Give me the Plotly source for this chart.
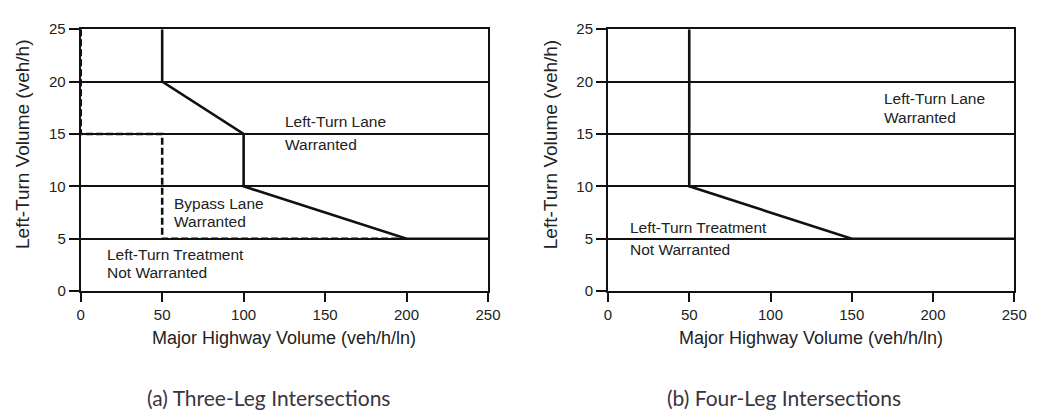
import plotly.graph_objects as go

# ---- data ----
x_ticks = [0, 50, 100, 150, 200, 250]
y_ticks = [0, 5, 10, 15, 20, 25]

# (a) three-leg: left-turn lane boundary (solid)
a_lane_x = [50, 50, 100, 100, 200, 250]
a_lane_y = [25, 20, 15, 10, 5, 5]
# (a) bypass lane boundary (dashed)
a_bypass_x = [0, 0, 50, 50, 200]
a_bypass_y = [25, 15, 15, 5, 5]
# (b) four-leg: left-turn lane boundary (solid)
b_lane_x = [50, 50, 150, 250]
b_lane_y = [25, 10, 5, 5]

a_labels = [
    ("Left-Turn Lane", 124, 16.2),
    ("Warranted", 124, 14.0),
    ("Bypass Lane", 56, 8.4),
    ("Warranted", 56, 6.6),
    ("Left-Turn Treatment", 15, 3.45),
    ("Not Warranted", 15, 1.75),
]
b_labels = [
    ("Left-Turn Lane", 168.5, 18.35),
    ("Warranted", 168.5, 16.6),
    ("Left-Turn Treatment", 12.5, 6.1),
    ("Not Warranted", 12.5, 4.0),
]
captions = ["(a) Three-Leg Intersections", "(b) Four-Leg Intersections"]
x_title = "Major Highway Volume (veh/h/ln)"
y_title = "Left-Turn Volume (veh/h)"

W, H = 1044, 420
fig = go.Figure()

LC = "#111"
fig.add_trace(go.Scatter(x=a_lane_x, y=a_lane_y, mode="lines",
                         line=dict(color=LC, width=2.6), xaxis="x", yaxis="y",
                         showlegend=False, hoverinfo="skip"))
fig.add_trace(go.Scatter(x=a_bypass_x, y=a_bypass_y, mode="lines",
                         line=dict(color=LC, width=2.6, dash="7px,3px"), xaxis="x", yaxis="y",
                         showlegend=False, hoverinfo="skip"))
fig.add_trace(go.Scatter(x=b_lane_x, y=b_lane_y, mode="lines",
                         line=dict(color=LC, width=2.6), xaxis="x2", yaxis="y2",
                         showlegend=False, hoverinfo="skip"))

FAM = "Liberation Sans"
font_tick = dict(family=FAM, size=15, color="#222")
font_lab = dict(family=FAM, size=15.5, color="#222")

def xa(domain, anchor):
    return dict(domain=domain, anchor=anchor, range=[0, 250], tickvals=x_ticks,
                showgrid=False, zeroline=False, showline=True, mirror=True,
                linecolor=LC, linewidth=2, ticks="outside", ticklen=9,
                tickcolor=LC, tickwidth=2, tickfont=font_tick, fixedrange=True)

def ya(domain, anchor):
    return dict(domain=domain, anchor=anchor, range=[0, 25], tickvals=y_ticks,
                showgrid=True, gridcolor=LC, gridwidth=2, zeroline=False,
                showline=True, mirror=True, linecolor=LC, linewidth=2,
                ticks="outside", ticklen=10, tickcolor=LC, tickwidth=2,
                tickfont=font_tick, fixedrange=True)

ydom = [1 - 294 / H, 1 - 21 / H]
fig.update_layout(
    width=W, height=H, margin=dict(l=0, r=0, t=0, b=0),
    paper_bgcolor="white", plot_bgcolor="white",
    xaxis=xa([78 / W, 492 / W], "y"),
    yaxis=ya(ydom, "x"),
    xaxis2=xa([614 / W, 1027 / W], "y2"),
    yaxis2=ya(ydom, "x2"),
)

ann = []
for t, x, y in a_labels:
    ann.append(dict(text=t, x=x, y=y, xref="x", yref="y", xanchor="left", yanchor="middle",
                    showarrow=False, font=font_lab))
for t, x, y in b_labels:
    ann.append(dict(text=t, x=x, y=y, xref="x2", yref="y2", xanchor="left", yanchor="middle",
                    showarrow=False, font=font_lab))
# axis titles
for cx in [285 / W, 820 / W]:
    ann.append(dict(text=x_title, x=cx, y=1 - 343 / H, xref="paper", yref="paper",
                    xanchor="center", yanchor="middle", showarrow=False,
                    font=dict(family=FAM, size=18, color="#222")))
for cx in [19 / W, 555 / W]:
    ann.append(dict(text=y_title, x=cx, y=1 - 141 / H, xref="paper", yref="paper",
                    xanchor="center", yanchor="middle", showarrow=False, textangle=-90,
                    font=dict(family=FAM, size=19, color="#222")))
# captions
for t, lx in zip(captions, [143 / W, 672 / W]):
    ann.append(dict(text=t, x=lx, y=1 - 405 / H, xref="paper", yref="paper",
                    xanchor="left", yanchor="middle", showarrow=False,
                    font=dict(family="Lato", size=21, color="#3a3440")))
fig.update_layout(annotations=ann)

fig.write_html("out.html", config={"displayModeBar": False, "staticPlot": True},
               post_script="document.body.style.margin='0px';document.body.style.padding='0px';")
